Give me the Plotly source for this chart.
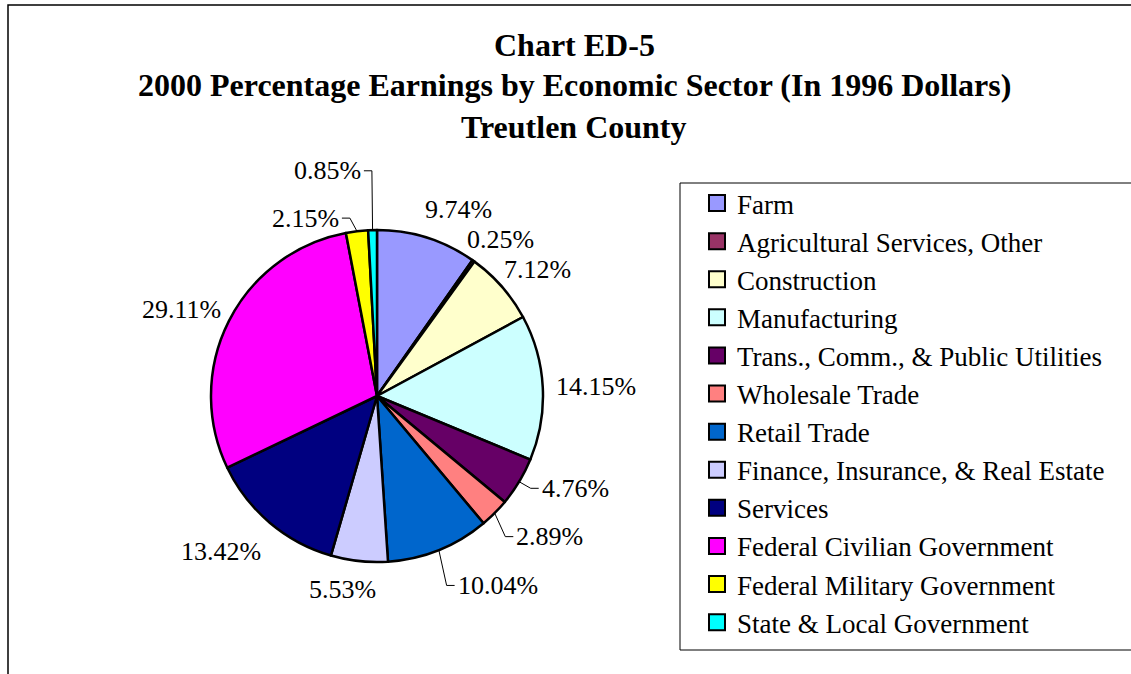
import math
import plotly.graph_objects as go

W, H = 1131, 674

sectors = [
    "Farm", "Agricultural Services, Other", "Construction", "Manufacturing",
    "Trans., Comm., & Public Utilities", "Wholesale Trade", "Retail Trade",
    "Finance, Insurance, & Real Estate", "Services", "Federal Civilian Government",
    "Federal Military Government", "State & Local Government",
]
shares = [9.74, 0.25, 7.12, 14.15, 4.76, 2.89, 10.04, 5.53, 13.42, 29.11, 2.15, 0.85]
colors = ["#9999FF", "#993366", "#FFFFCC", "#CCFFFF", "#660066", "#FF8080",
          "#0066CC", "#CCCCFF", "#000080", "#FF00FF", "#FFFF00", "#00FFFF"]
title_lines = ["Chart ED-5",
               "2000 Percentage Earnings by Economic Sector (In 1996 Dollars)",
               "Treutlen County"]

FONT = "Liberation Serif, Times New Roman, serif"
LABEL_SIZE = 26

# layout: pie geometry in pixels
cx, cy, r = 377, 396, 166
# layout: extra displacement (pixels) of crowded labels, which get leader lines
label_nudge = {
    "Trans., Comm., & Public Utilities": (16, -7),
    "Wholesale Trade": (22, 5),
    "Retail Trade": (39, 11),
    "Federal Military Government": (-46, 13),
    "State & Local Government": (-44, -33),
}
# layout: small placement tweaks for labels without leader lines
label_shift = {
    "Farm": (17, -3),
    "Services": (-14, 9),
    "Finance, Insurance, & Real Estate": (-12, 2),
}

fig = go.Figure()
fig.add_trace(go.Pie(
    labels=sectors, values=shares, sort=False, direction="clockwise", rotation=0,
    marker=dict(colors=colors, line=dict(color="black", width=2.5)),
    textinfo="none", showlegend=False,
    domain=dict(x=[(cx - r) / W, (cx + r) / W], y=[(H - cy - r) / H, (H - cy + r) / H]),
    hoverinfo="label+value",
))

# legend entries (square swatches like the original)
for name, col in zip(sectors, colors):
    fig.add_trace(go.Scatter(
        x=[None], y=[None], mode="markers", name=name,
        marker=dict(symbol="square", size=16, color=col, line=dict(color="black", width=2)),
        xaxis="x", yaxis="y", hoverinfo="skip"))


def text_width(s, size):
    w = 0.0
    for ch in s:
        w += 0.833 if ch == "%" else (0.25 if ch == "." else 0.5)
    return w * size


annotations = []
total = sum(shares)
cum = 0.0
for name, v in zip(sectors, shares):
    mid = (cum + v / 2) / total * 2 * math.pi
    cum += v
    s, c = math.sin(mid), math.cos(mid)
    txt = "%.2f%%" % v
    hw = text_width(txt, LABEL_SIZE) / 2
    hh = LABEL_SIZE / 2
    lx = cx + 1.08 * r * s + hw * s
    ly = cy - 1.08 * r * c - hh * c
    if name in label_shift:
        dx, dy = label_shift[name]
        lx += dx
        ly += dy
    if name in label_nudge:
        dx, dy = label_nudge[name]
        lx += dx
        ly += dy
        rx, ry = cx + r * s, cy - r * c
        side = 1 if lx > rx else -1
        ex = lx - side * (hw + 3)
        fig.add_trace(go.Scatter(
            x=[rx, ex - side * 8, ex], y=[ry, ly, ly], mode="lines",
            line=dict(color="black", width=1), showlegend=False, hoverinfo="skip",
            xaxis="x", yaxis="y"))
    annotations.append(dict(text=txt, x=lx, y=ly, xref="x", yref="y", showarrow=False,
                            xanchor="center", yanchor="middle",
                            font=dict(family=FONT, size=LABEL_SIZE, color="black")))

for t, yc in zip(title_lines, [45, 85, 127]):
    annotations.append(dict(text="<b>%s</b>" % t, x=574, y=yc, xref="x", yref="y",
                            showarrow=False, xanchor="center", yanchor="middle",
                            font=dict(family=FONT, size=32, color="black")))

shapes = [
    dict(type="rect", xref="x", yref="y", x0=8, x1=W + 20, y0=5, y1=H + 20,
         line=dict(color="black", width=1.5)),
    dict(type="rect", xref="x", yref="y", x0=680, x1=W + 20, y0=183, y1=650,
         line=dict(color="black", width=1)),
]

fig.update_layout(
    width=W, height=H,
    margin=dict(l=0, r=0, t=0, b=0),
    paper_bgcolor="white", plot_bgcolor="rgba(0,0,0,0)",
    xaxis=dict(range=[0, W], visible=False, domain=[0, 1], fixedrange=True),
    yaxis=dict(range=[H, 0], visible=False, domain=[0, 1], fixedrange=True),
    annotations=annotations, shapes=shapes,
    showlegend=True,
    legend=dict(x=697 / W, y=1 - 179 / H, xanchor="left", yanchor="top",
                font=dict(family=FONT, size=27, color="black"),
                bgcolor="rgba(0,0,0,0)", borderwidth=0, itemsizing="trace"),
)

fig.write_html("out.html", config={"displayModeBar": False},
               post_script="document.body.style.margin='0px';")
